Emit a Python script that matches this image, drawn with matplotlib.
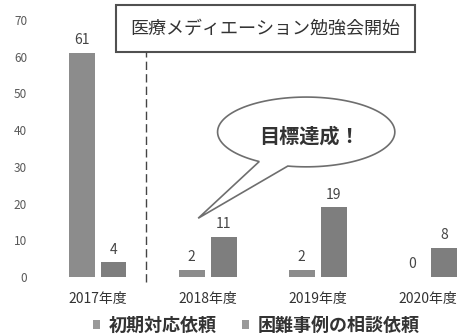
import numpy as np
import matplotlib as mpl
mpl.use('Agg')
import matplotlib.pyplot as plt
from matplotlib.patches import Patch, Polygon, Rectangle

plt.rcParams['font.family'] = ['Noto Sans CJK JP', 'DejaVu Sans']

# Data
years = ['2017年度', '2018年度', '2019年度', '2020年度']
series_names = ['初期対応依頼', '困難事例の相談依頼']
initial_requests = [61, 2, 2, 0]
difficult_cases = [4, 11, 19, 8]
yticks = [0, 10, 20, 30, 40, 50, 60, 70]

colors = ['#8c8c8c', '#7e7e7e']
text_grey = '#454545'

fig = plt.figure(figsize=(4.62, 3.36), dpi=100)
ax = fig.add_axes([0.092, 0.1756, 0.908, 0.765])

x = np.arange(len(years))
width = 0.235
offset = 0.145
bars1 = ax.bar(x - offset, initial_requests, width, color=colors[0])
bars2 = ax.bar(x + offset, difficult_cases, width, color=colors[1])

# value labels above each bar
for bars, vals in ((bars1, initial_requests), (bars2, difficult_cases)):
    for b, v in zip(bars, vals):
        ax.annotate(str(v), (b.get_x() + b.get_width() / 2, v),
                    xytext=(0, 4), textcoords='offset points',
                    ha='center', va='bottom', fontsize=10, color=text_grey)

ax.set_xlim(-0.5, 3.31)
ax.set_ylim(0, 70)
ax.set_xticks(x)
ax.set_xticklabels(years, fontsize=10, color='#333333')
ax.tick_params(axis='both', length=0)
ax.set_yticks(yticks)
ax.set_yticklabels([str(t) for t in yticks], fontsize=8.5, color='#595959')
ax.tick_params(axis='x', pad=11)
ax.tick_params(axis='y', pad=11)
for s in ax.spines.values():
    s.set_visible(False)

# start of the study sessions: dashed marker and caption box
ax.plot([0.441, 0.441], [-1.4, 61.3], color='#444444', lw=1.0,
        dashes=(6, 3), clip_on=False)
ax.add_patch(Rectangle((0.168, 61.3), 2.718, 12.8, fill=False,
                       edgecolor='#505050', lw=1.5, clip_on=False))
ax.text(1.527, 67.7, '医療メディエーション勉強会開始', ha='center', va='center',
        fontsize=13, color='#333333', clip_on=False)

# speech bubble pointing at 2018
cx, cy, a, b = 1.895, 39.5, 0.805, 9.5
t1, t2 = np.radians(238), np.radians(258)
ts = np.linspace(t2, t1 + 2 * np.pi, 120)
pts = [(cx + a * np.cos(t), cy + b * np.sin(t)) for t in ts]
pts.append((0.914, 16.0))
ax.add_patch(Polygon(pts, closed=True, facecolor='white',
                     edgecolor='#6e6e6e', lw=1.2, zorder=3))
ax.text(1.925, 38.3, '目標達成！', ha='center', va='center', fontsize=14.5,
        fontweight='bold', color='#333333', zorder=4)

handles = [Patch(facecolor='#999999', edgecolor='none'),
           Patch(facecolor='#999999', edgecolor='none')]
fig.legend(handles, series_names, loc='center', bbox_to_anchor=(0.554, 0.032),
           ncol=2, frameon=False, handlelength=0.42, handleheight=0.42,
           handletextpad=0.45, columnspacing=1.4,
           prop={'size': 13, 'weight': 'bold'}, labelcolor='#333333')

fig.savefig('out.png', dpi=100)
